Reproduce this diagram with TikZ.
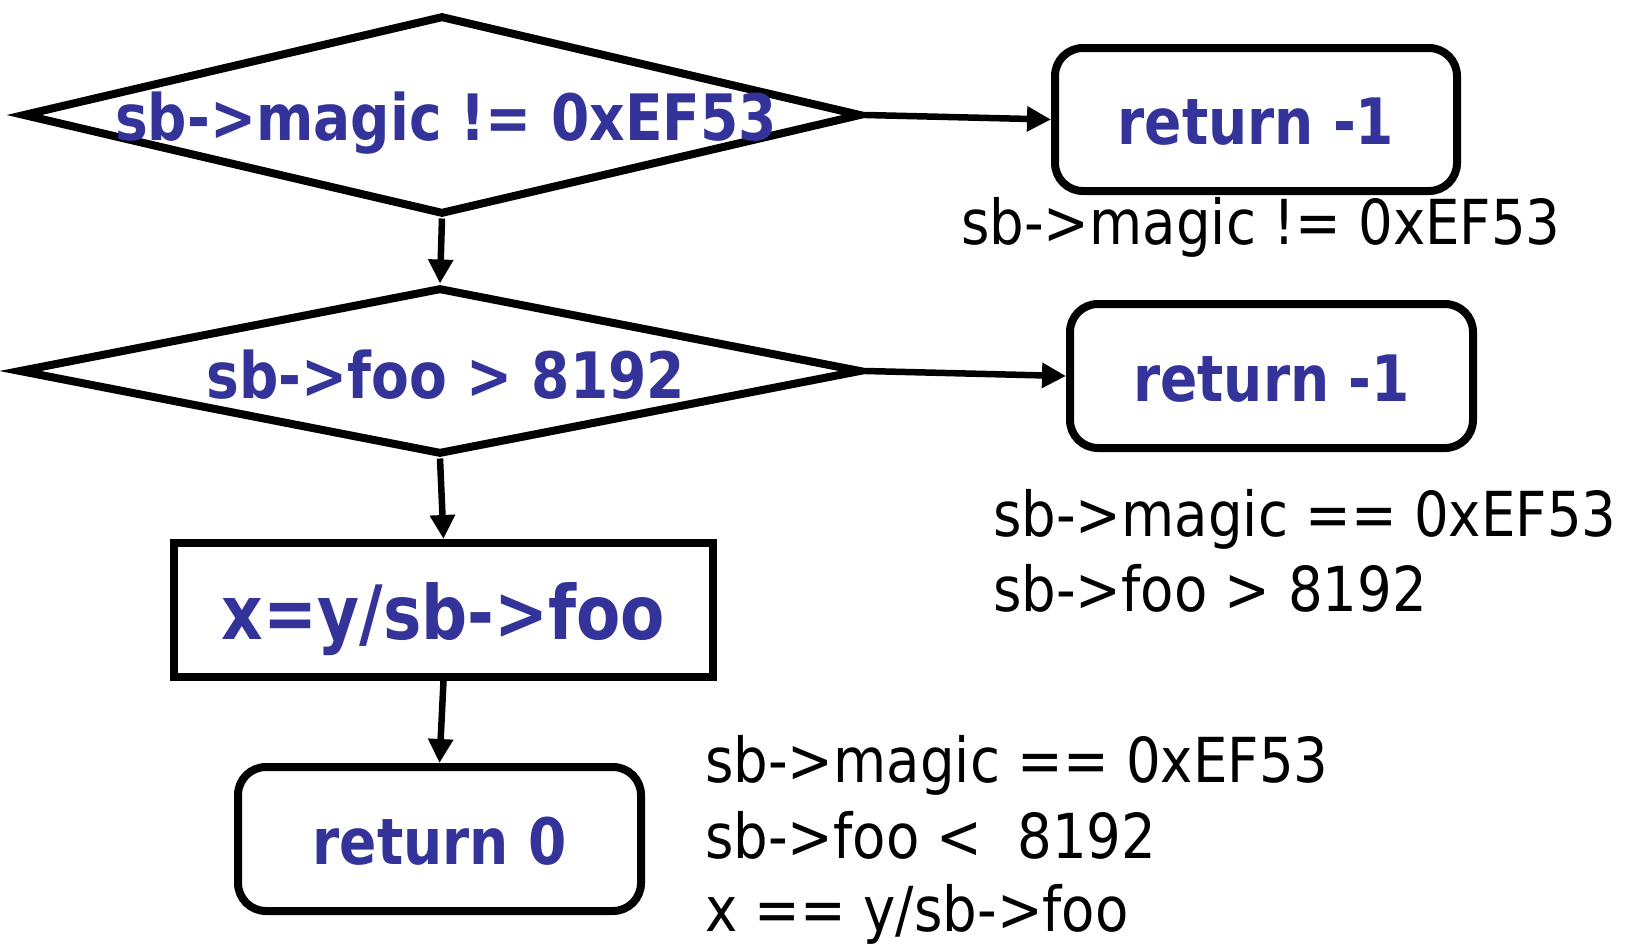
\documentclass[tikz,border=0pt]{standalone}
\usepackage{fontspec}
\usetikzlibrary{arrows.meta,shapes.geometric}
\newfontfamily\codefont[FakeStretch=0.86]{DejaVu Sans}
\newfontfamily\notefont[FakeStretch=0.88]{DejaVu Sans}
\definecolor{codeblue}{RGB}{51,51,153}
\begin{document}
\begin{tikzpicture}[x=1pt,y=-1pt,
  shapeline/.style={draw=black,line width=8pt},
  decision/.style={shapeline,diamond,inner sep=0pt},
  roundbox/.style={shapeline,rounded corners=28pt,inner sep=0pt,text depth=0pt},
  plainbox/.style={shapeline,inner sep=0pt,text depth=0pt},
  code/.style={text=codeblue,text height=50pt,
    font=\codefont\bfseries\fontsize{64}{70}\selectfont},
  bigcode/.style={text=codeblue,text height=58pt,
    font=\codefont\bfseries\fontsize{75}{82}\selectfont},
  note/.style={font=\notefont\fontsize{62}{76}\selectfont,anchor=base west,inner sep=0pt},
  flow/.style={line width=6.5pt,-{Triangle[length=24pt,width=24pt]}}]
\useasboundingbox (0,0) rectangle (1631,948);

% decisions
\node[decision,minimum width=839pt,minimum height=199pt] (d1) at (442,115) {};
\node[code,anchor=base,inner sep=0pt] (d1t) at (446,140) {sb->magic != 0xEF53};
\node[decision,minimum width=843pt,minimum height=167pt] (d2) at (440,371) {};
\node[code,anchor=base,inner sep=0pt] (d2t) at (446,398) {sb->foo > 8192};

% actions
\node[roundbox,code,minimum width=402pt,minimum height=143pt] (r1) at (1256,119.5) {return -1};
\node[roundbox,code,minimum width=403pt,minimum height=144pt] (r2) at (1271.5,376) {return -1};
\node[plainbox,bigcode,minimum width=539pt,minimum height=134pt] (calc) at (443.5,610) {x=y/sb->foo};
\node[roundbox,code,minimum width=403pt,minimum height=144pt] (r0) at (439.5,839) {return 0};

% connectors
\draw[flow] (d1.south) -- (d2.north);
\draw[flow] (d1.east) -- (r1.west);
\draw[flow] (d2.east) -- (r2.west);
\draw[flow] (d2.south) -- (calc.north);
\draw[flow] (calc.south) -- (r0.north);

% path conditions
\node[note] (c1) at (961,244) {sb->magic != 0xEF53};
\node[note] (c2a) at (993,536) {sb->magic == 0xEF53};
\node[note] (c2b) at (993,611) {sb->foo > 8192};
\node[note] (c3a) at (705,782) {sb->magic == 0xEF53};
\node[note] (c3b) at (705,858) {sb->foo <\ \ 8192};
\node[note] (c3c) at (705,931) {x == y/sb->foo};
\end{tikzpicture}
\end{document}
